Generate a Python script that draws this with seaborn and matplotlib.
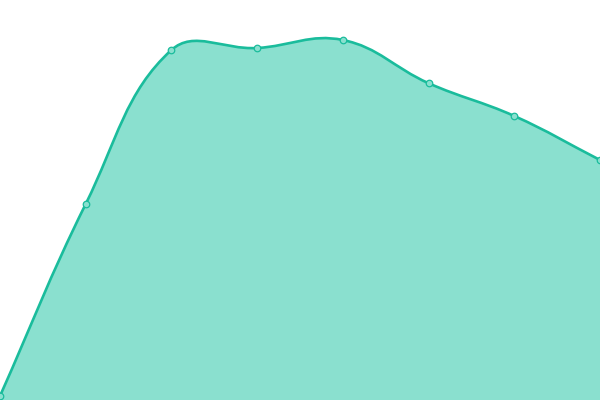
import matplotlib
matplotlib.use('Agg')
import matplotlib.pyplot as plt
import numpy as np
import pandas as pd
import seaborn as sns
from matplotlib.path import Path
from matplotlib.patches import PathPatch

sns.set_theme(style='white')

# data (y axis 0..100, one point per step)
steps = [0, 1, 2, 3, 4, 5, 6, 7]
values = [1, 49, 87.5, 88, 90, 79.2, 71, 60]

LINE = '#1abc9c'
FILL = '#8ae0cf'
TENSION = 0.4


def spline_controls(xs, ys, sx, sy, t):
    # cardinal-style control points, distances measured in pixels
    n = len(xs)
    prev_c, next_c = [], []
    for i in range(n):
        p0 = (xs[max(i - 1, 0)], ys[max(i - 1, 0)])
        p1 = (xs[i], ys[i])
        p2 = (xs[min(i + 1, n - 1)], ys[min(i + 1, n - 1)])
        d01 = np.hypot((p1[0] - p0[0]) * sx, (p1[1] - p0[1]) * sy)
        d12 = np.hypot((p2[0] - p1[0]) * sx, (p2[1] - p1[1]) * sy)
        tot = d01 + d12
        s01 = d01 / tot if tot else 0
        s12 = d12 / tot if tot else 0
        fa, fb = t * s01, t * s12
        prev_c.append((p1[0] - fa * (p2[0] - p0[0]), p1[1] - fa * (p2[1] - p0[1])))
        next_c.append((p1[0] + fb * (p2[0] - p0[0]), p1[1] + fb * (p2[1] - p0[1])))
    verts = [(xs[0], ys[0])]
    codes = [Path.MOVETO]
    for i in range(n - 1):
        verts += [next_c[i], prev_c[i + 1], (xs[i + 1], ys[i + 1])]
        codes += [Path.CURVE4] * 3
    return verts, codes


df = pd.DataFrame({'step': steps, 'value': values})

fig = plt.figure(figsize=(6, 4), dpi=100)
ax = fig.add_axes([0, 0, 1, 1])
ax.set_xlim(0, 7)
ax.set_ylim(0, 100)

verts, codes = spline_controls(steps, values, 600 / 7, 4, TENSION)

fill_verts = verts + [(steps[-1], 0), (steps[0], 0), verts[0]]
fill_codes = codes + [Path.LINETO, Path.LINETO, Path.CLOSEPOLY]
ax.add_patch(PathPatch(Path(fill_verts, fill_codes), facecolor=FILL,
                       edgecolor='none', zorder=1))
ax.add_patch(PathPatch(Path(verts, codes), facecolor='none', edgecolor=LINE,
                       linewidth=1.9, zorder=2, clip_on=False))

sns.scatterplot(data=df, x='step', y='value', ax=ax, s=22, color=FILL,
                edgecolor=LINE, linewidth=0.9, zorder=3, clip_on=False)

ax.set_axis_off()
fig.savefig('out.png', dpi=100)
